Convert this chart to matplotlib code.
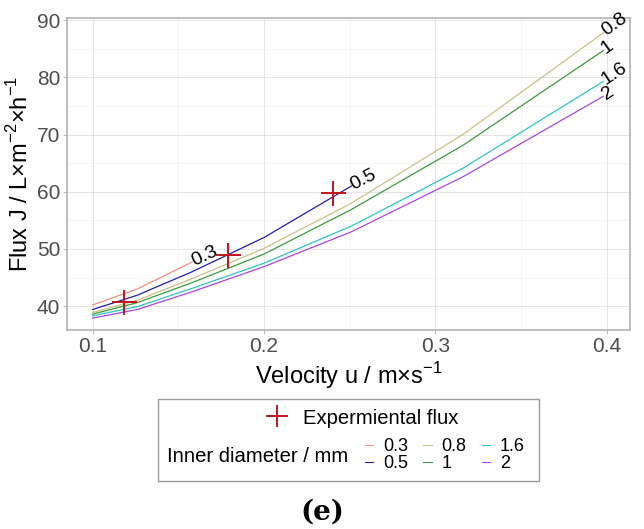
import matplotlib
matplotlib.use("Agg")
import matplotlib.pyplot as plt
from matplotlib.lines import Line2D
from matplotlib.patches import Rectangle

plt.rcParams["font.family"] = ["Liberation Sans", "DejaVu Sans"]
plt.rcParams["mathtext.fontset"] = "custom"
plt.rcParams["mathtext.rm"] = "Liberation Sans"

# velocities (m/s) where the model curves are evaluated
u = [0.1, 0.126, 0.158, 0.2, 0.251, 0.316, 0.398]

# model flux per inner diameter (mm)
diameters = ["0.3", "0.5", "0.8", "1", "1.6", "2"]
flux_03 = [40.2, 43.0, 47.7]
flux_05 = [39.4, 41.9, 46.0, 52.0, 61.0]
flux_08 = [38.9, 41.0, 44.8, 50.1, 58.0, 70.0, 87.8]
flux_1 = [38.6, 40.6, 44.1, 49.1, 56.9, 68.1, 84.7]
flux_16 = [38.3, 39.9, 43.1, 47.5, 54.0, 64.1, 79.3]
flux_2 = [37.9, 39.4, 42.5, 46.9, 53.0, 62.6, 76.7]
fluxes = [flux_03, flux_05, flux_08, flux_1, flux_16, flux_2]

# experimental points
exp_u = [0.118, 0.179, 0.24]
exp_flux = [40.8, 49.0, 59.8]

colors = ["#FA8C82", "#1F1FB4", "#CBC285", "#3C9A3C", "#2EC4C4", "#A846E6"]
label_rot = [25, 27, 36, 36, 34, 33]

fig = plt.figure(figsize=(6.44, 5.29), dpi=100)
ax = fig.add_axes([0.104, 0.376, 0.874, 0.590])

for d, f, c, rot in zip(diameters, fluxes, colors, label_rot):
    xs = u[:len(f)]
    ax.plot(xs, f, color=c, lw=0.9, zorder=3)
    ax.text(xs[-1], f[-1], d, rotation=rot, rotation_mode="anchor",
            ha="left", va="center", fontsize=14, zorder=5)

ax.plot(exp_u, exp_flux, ls="none", marker="+", ms=18, mew=1.4,
        color="#C0141C", zorder=4)

ax.set_xlim(0.085, 0.4135)
ax.set_ylim(35.8, 90.4)
ax.set_xticks([0.1, 0.2, 0.3, 0.4])
ax.set_xticklabels(["0.1", "0.2", "0.3", "0.4"])
ax.set_yticks([40, 50, 60, 70, 80, 90])
ax.set_xticks([0.15, 0.25, 0.35], minor=True)
ax.set_yticks([45, 55, 65, 75, 85], minor=True)
ax.grid(which="major", color="#E0E0E0", lw=0.6)
ax.grid(which="minor", color="#EDEDED", lw=0.4)
ax.set_axisbelow(True)
for s in ax.spines.values():
    s.set_color("#B3B3B3")
    s.set_linewidth(1.2)
ax.tick_params(which="major", colors="#B3B3B3", labelcolor="#4D4D4D",
               labelsize=15, length=3, width=0.6, pad=2)
ax.tick_params(which="minor", length=0)

ax.set_xlabel("Velocity u / m×s$^{-1}$", fontsize=17, labelpad=3)
ax.set_ylabel("Flux J / L×m$^{-2}$×h$^{-1}$", fontsize=17, labelpad=3)

# legend box
fig.add_artist(Rectangle((0.245, 0.0907), 0.592, 0.155, transform=fig.transFigure,
                         fill=False, edgecolor="#999999", lw=1.0))
exp_handle = Line2D([], [], ls="none", marker="+", ms=16, mew=1.4, color="#C0141C")
fig.legend(handles=[exp_handle], labels=["Expermiental flux"], loc="center",
           bbox_to_anchor=(0.555, 1 - 418 / 529), frameon=False, fontsize=14.6,
           handletextpad=0.3, borderpad=0, borderaxespad=0)
fig.text(167 / 644, 1 - 456 / 529, "Inner diameter / mm", va="center",
         ha="left", fontsize=14.6)
line_handles = [Line2D([], [], color=c, lw=0.8) for c in colors]
fig.legend(handles=line_handles, labels=diameters, ncol=3, loc="center left",
           bbox_to_anchor=(365 / 644, 1 - 455 / 529), frameon=False,
           fontsize=13, handlelength=0.45, handletextpad=0.55,
           columnspacing=0.85, labelspacing=0.0, borderpad=0, borderaxespad=0)

fig.text(322 / 644, 1 - 512 / 529, "(e)", ha="center", va="center",
         fontsize=20, fontweight="bold", family="DejaVu Serif")

fig.savefig("out.png", dpi=100)
